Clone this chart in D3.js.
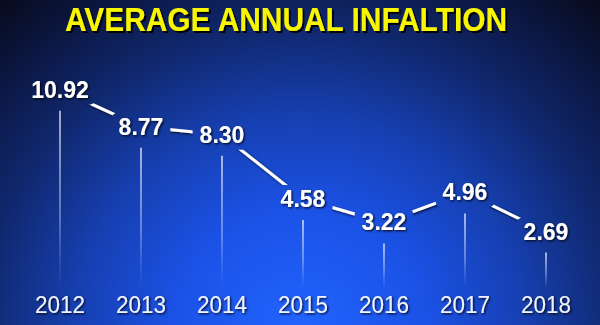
<!DOCTYPE html>
<html>
<head>
<meta charset="utf-8">
<script src="https://cdn.jsdelivr.net/npm/d3@7"></script>
<style>
  html, body { margin: 0; padding: 0; background: #080c20; }
  svg { display: block; }
</style>
</head>
<body>
<svg id="chart" width="600" height="325"></svg>
<script>
// ---- data ----
const title = "AVERAGE ANNUAL INFALTION";
const years = ["2012", "2013", "2014", "2015", "2016", "2017", "2018"];
const inflation = [10.92, 8.77, 8.30, 4.58, 3.22, 4.96, 2.69];
const valueLabels = ["10.92", "8.77", "8.30", "4.58", "3.22", "4.96", "2.69"];

const W = 600, H = 325;
const svg = d3.select("#chart");
const defs = svg.append("defs");

// background radial gradient
const bg = defs.append("radialGradient")
  .attr("id", "bg").attr("gradientUnits", "userSpaceOnUse")
  .attr("cx", 300).attr("cy", 330).attr("r", 430)
  .attr("gradientTransform", "translate(300,330) scale(1.05,1) translate(-300,-330)");
[[0, "#2264ff"], [0.28, "#1b52e6"], [0.5, "#163fb0"], [0.7, "#10286f"], [0.86, "#0c1845"], [1, "#080c20"]]
  .forEach(([o, c]) => bg.append("stop").attr("offset", o).attr("stop-color", c));
svg.append("rect").attr("width", W).attr("height", H).attr("fill", "url(#bg)");

// shadows
const sh = defs.append("filter").attr("id", "shadow").attr("x", "-20%").attr("y", "-40%").attr("width", "140%").attr("height", "180%");
sh.append("feDropShadow").attr("dx", 1.2).attr("dy", 1.2).attr("stdDeviation", 0.8)
  .attr("flood-color", "#000").attr("flood-opacity", 0.85);
const tsh = defs.append("filter").attr("id", "tshadow").attr("x", "-10%").attr("y", "-30%").attr("width", "120%").attr("height", "160%");
tsh.append("feDropShadow").attr("dx", 2).attr("dy", 2).attr("stdDeviation", 0.7)
  .attr("flood-color", "#000").attr("flood-opacity", 0.95);

// scales
const x = d3.scalePoint().domain(years).range([60, 546]);
const y = d3.scaleLinear().domain([0, 12]).range([286, 79]);

const data = years.map((yr, i) => ({ year: yr, value: inflation[i], label: valueLabels[i] }));

// title
svg.append("text")
  .attr("x", 286).attr("y", 31)
  .attr("text-anchor", "middle")
  .attr("font-family", "Liberation Sans, Arial, sans-serif")
  .attr("font-weight", "bold").attr("font-size", 34)
  .attr("textLength", 442).attr("lengthAdjust", "spacingAndGlyphs")
  .attr("fill", "#f7f500")
  .attr("filter", "url(#tshadow)")
  .text(title);

// vertical drop lines (fading downward)
data.forEach((d, i) => {
  const top = y(d.value) + 13, bottom = 288;
  const g = defs.append("linearGradient").attr("id", "vl" + i)
    .attr("gradientUnits", "userSpaceOnUse")
    .attr("x1", 0).attr("x2", 0).attr("y1", top).attr("y2", bottom);
  g.append("stop").attr("offset", 0).attr("stop-color", "#ffffff").attr("stop-opacity", 0.9);
  g.append("stop").attr("offset", 0.6).attr("stop-color", "#cfe0ff").attr("stop-opacity", 0.55);
  g.append("stop").attr("offset", 1).attr("stop-color", "#9fc0ff").attr("stop-opacity", 0);
  svg.append("line")
    .attr("x1", x(d.year)).attr("x2", x(d.year))
    .attr("y1", top).attr("y2", bottom)
    .attr("stroke", `url(#vl${i})`).attr("stroke-width", 1.4);
});

// value labels (rendered first to measure)
const lineLayer = svg.append("g");
const labels = svg.append("g").selectAll("text").data(data).join("text")
  .attr("x", d => x(d.year)).attr("y", d => y(d.value))
  .attr("text-anchor", "middle")
  .attr("font-family", "Liberation Sans, Arial, sans-serif")
  .attr("font-weight", "bold").attr("font-size", 23)
  .attr("fill", "#ffffff")
  .attr("filter", "url(#shadow)")
  .text(d => d.label);

// mask to cut connecting line around labels
const mask = defs.append("mask").attr("id", "cut").attr("maskUnits", "userSpaceOnUse")
  .attr("x", 0).attr("y", 0).attr("width", W).attr("height", H);
mask.append("rect").attr("width", W).attr("height", H).attr("fill", "#fff");
labels.each(function () {
  const b = this.getBBox();
  mask.append("rect")
    .attr("x", b.x - 7).attr("y", b.y - 1)
    .attr("width", b.width + 14).attr("height", b.height + 3)
    .attr("rx", 6)
    .attr("fill", "#000");
});

const line = d3.line().x(d => x(d.year)).y(d => y(d.value) - 8);
lineLayer.append("path")
  .datum(data)
  .attr("d", line)
  .attr("fill", "none")
  .attr("stroke", "#ffffff").attr("stroke-width", 3)
  .attr("stroke-linejoin", "round")
  .attr("mask", "url(#cut)")
  .attr("filter", "url(#shadow)");

// year labels
svg.append("g").selectAll("text").data(data).join("text")
  .attr("x", d => x(d.year)).attr("y", 313)
  .attr("text-anchor", "middle")
  .attr("font-family", "Liberation Sans, Arial, sans-serif")
  .attr("font-size", 24)
  .attr("textLength", 50).attr("lengthAdjust", "spacingAndGlyphs")
  .attr("fill", "#eef3ff")
  .attr("filter", "url(#shadow)")
  .text(d => d.year);
</script>
</body>
</html>
